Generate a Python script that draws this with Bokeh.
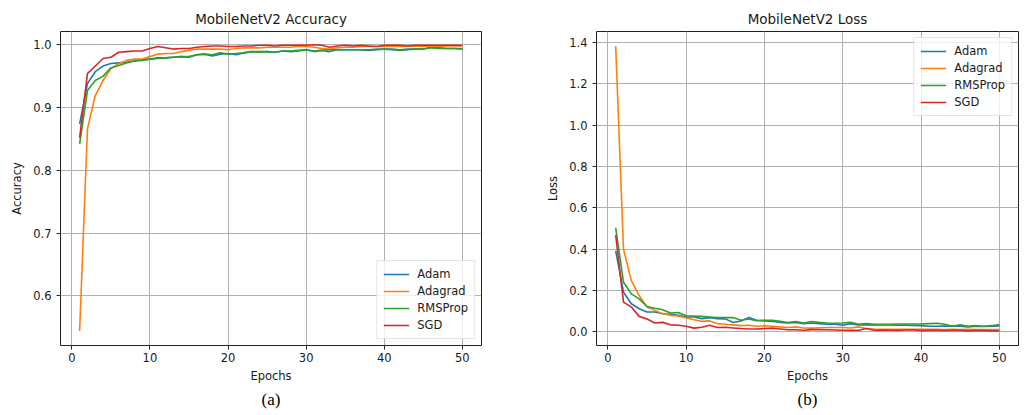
from bokeh.plotting import figure
from bokeh.layouts import row
from bokeh.models import FixedTicker, PrintfTickFormatter, Legend, LegendItem, Title
from bokeh.embed import file_html
from bokeh.resources import INLINE

epochs = list(range(1, 51))

acc_adam = [0.874, 0.938, 0.957, 0.966, 0.970, 0.971, 0.972, 0.974, 0.976, 0.977,
            0.979, 0.979, 0.980, 0.981, 0.980, 0.984, 0.985, 0.982, 0.985, 0.986,
            0.984, 0.987, 0.989, 0.989, 0.989, 0.988, 0.990, 0.989, 0.990, 0.992,
            0.990, 0.991, 0.989, 0.992, 0.992, 0.992, 0.992, 0.991, 0.992, 0.993,
            0.993, 0.992, 0.993, 0.993, 0.993, 0.996, 0.995, 0.994, 0.994, 0.994]
acc_adagrad = [0.544, 0.866, 0.919, 0.943, 0.962, 0.970, 0.975, 0.977, 0.977, 0.981,
               0.985, 0.986, 0.986, 0.989, 0.991, 0.993, 0.993, 0.993, 0.993, 0.992,
               0.994, 0.995, 0.995, 0.995, 0.996, 0.996, 0.996, 0.996, 0.997, 0.997,
               0.996, 0.994, 0.993, 0.995, 0.996, 0.996, 0.997, 0.997, 0.997, 0.997,
               0.997, 0.997, 0.997, 0.998, 0.997, 0.998, 0.997, 0.998, 0.998, 0.998]
acc_rmsprop = [0.842, 0.927, 0.943, 0.950, 0.963, 0.967, 0.971, 0.974, 0.975, 0.977,
               0.978, 0.979, 0.980, 0.981, 0.981, 0.984, 0.985, 0.984, 0.987, 0.985,
               0.986, 0.987, 0.989, 0.988, 0.989, 0.988, 0.990, 0.990, 0.991, 0.992,
               0.989, 0.991, 0.992, 0.992, 0.992, 0.992, 0.992, 0.992, 0.993, 0.993,
               0.992, 0.991, 0.992, 0.993, 0.993, 0.995, 0.994, 0.994, 0.994, 0.993]
acc_sgd = [0.852, 0.954, 0.966, 0.978, 0.980, 0.988, 0.989, 0.990, 0.990, 0.994,
           0.997, 0.995, 0.993, 0.994, 0.994, 0.996, 0.997, 0.998, 0.998, 0.997,
           0.997, 0.998, 0.998, 0.999, 0.999, 0.998, 0.999, 0.999, 0.999, 0.999,
           1.000, 0.999, 0.996, 0.998, 0.999, 0.998, 0.999, 0.998, 0.997, 0.999,
           0.999, 0.999, 0.998, 0.999, 0.999, 0.999, 0.999, 0.999, 0.999, 0.999]

loss_adam = [0.392, 0.192, 0.136, 0.112, 0.096, 0.096, 0.088, 0.085, 0.080, 0.072,
             0.072, 0.064, 0.069, 0.064, 0.063, 0.045, 0.053, 0.069, 0.056, 0.053,
             0.051, 0.046, 0.043, 0.046, 0.040, 0.043, 0.040, 0.037, 0.037, 0.032,
             0.040, 0.034, 0.035, 0.034, 0.033, 0.033, 0.032, 0.032, 0.031, 0.030,
             0.027, 0.027, 0.028, 0.028, 0.027, 0.024, 0.027, 0.026, 0.027, 0.029]
loss_adagrad = [1.384, 0.400, 0.248, 0.176, 0.120, 0.104, 0.088, 0.080, 0.077, 0.067,
                0.059, 0.051, 0.053, 0.040, 0.037, 0.034, 0.030, 0.032, 0.027, 0.030,
                0.027, 0.024, 0.021, 0.024, 0.019, 0.018, 0.020, 0.021, 0.021, 0.021,
                0.019, 0.024, 0.016, 0.014, 0.013, 0.013, 0.012, 0.013, 0.012, 0.012,
                0.012, 0.013, 0.011, 0.012, 0.011, 0.012, 0.011, 0.011, 0.011, 0.011]
loss_rmsprop = [0.504, 0.240, 0.184, 0.160, 0.123, 0.114, 0.107, 0.091, 0.094, 0.078,
                0.077, 0.075, 0.072, 0.069, 0.069, 0.069, 0.056, 0.062, 0.054, 0.056,
                0.056, 0.051, 0.045, 0.050, 0.043, 0.050, 0.046, 0.043, 0.042, 0.043,
                0.046, 0.037, 0.040, 0.037, 0.037, 0.037, 0.038, 0.038, 0.038, 0.038,
                0.040, 0.042, 0.037, 0.027, 0.034, 0.027, 0.030, 0.027, 0.030, 0.035]
loss_sgd = [0.469, 0.144, 0.120, 0.075, 0.062, 0.043, 0.046, 0.034, 0.032, 0.027,
            0.018, 0.022, 0.032, 0.021, 0.022, 0.019, 0.016, 0.014, 0.014, 0.016,
            0.018, 0.014, 0.010, 0.010, 0.008, 0.011, 0.011, 0.010, 0.009, 0.008,
            0.007, 0.007, 0.016, 0.008, 0.009, 0.008, 0.007, 0.009, 0.010, 0.006,
            0.007, 0.008, 0.006, 0.008, 0.007, 0.005, 0.007, 0.006, 0.005, 0.005]

names = ["Adam", "Adagrad", "RMSProp", "SGD"]
colors = ["#1f77b4", "#ff7f0e", "#2ca02c", "#d62728"]
x_ticks = [0, 10, 20, 30, 40, 50]
acc_ticks = [0.6, 0.7, 0.8, 0.9, 1.0]
loss_ticks = [0.0, 0.2, 0.4, 0.6, 0.8, 1.0, 1.2, 1.4]

FONT = "DejaVu Sans"


def make_fig(title, ylabel, series, yticks, yrange, legend_loc, caption,
             border_left, frame_w, border_right):
    p = figure(frame_width=frame_w, frame_height=314,
               min_border_left=border_left, min_border_right=border_right,
               min_border_top=31, min_border_bottom=70,
               x_range=(-1.45, 52.45), y_range=yrange,
               output_backend="svg", toolbar_location=None,
               background_fill_color="white", border_fill_color="white")
    p.title.text = title
    p.title.text_font = FONT
    p.title.text_font_size = "13.5px"
    p.title.text_font_style = "normal"
    p.title.align = "center"
    p.title.text_color = "#1a1a1a"
    p.outline_line_color = "#222222"
    p.outline_line_width = 1
    p.outline_line_alpha = 1

    items = []
    for name, col, ys in zip(names, colors, series):
        r = p.line(epochs, ys, line_color=col, line_width=1.6)
        items.append(LegendItem(label=name, renderers=[r]))

    for ax in (p.xaxis[0], p.yaxis[0]):
        ax.axis_line_color = None
        ax.major_tick_line_color = "#222222"
        ax.major_tick_out = 4
        ax.major_tick_in = 0
        ax.minor_tick_line_color = None
        ax.major_label_text_font = FONT
        ax.major_label_text_font_size = "11.5px"
        ax.major_label_text_color = "#1a1a1a"
        ax.axis_label_text_font = FONT
        ax.axis_label_text_font_size = "11.5px"
        ax.axis_label_text_font_style = "normal"
        ax.axis_label_text_color = "#1a1a1a"

    p.xaxis.ticker = FixedTicker(ticks=x_ticks)
    p.xaxis.axis_label = "Epochs"
    p.xaxis.major_label_standoff = 3
    p.xaxis.axis_label_standoff = 4
    p.yaxis.ticker = FixedTicker(ticks=yticks)
    p.yaxis.formatter = PrintfTickFormatter(format="%.1f")
    p.yaxis.axis_label = ylabel
    p.yaxis.major_label_standoff = 5
    p.yaxis.axis_label_standoff = 6

    p.grid.grid_line_color = "#b0b0b0"
    p.grid.grid_line_width = 1
    p.xgrid.ticker = FixedTicker(ticks=x_ticks)
    p.ygrid.ticker = FixedTicker(ticks=yticks)

    leg = Legend(items=items, location=legend_loc, margin=6,
                 label_text_font=FONT, label_text_font_size="11.5px",
                 label_text_color="#1a1a1a",
                 label_height=14, glyph_height=14, glyph_width=26,
                 spacing=3, padding=6, label_standoff=8,
                 border_line_color="#cccccc", border_line_width=1,
                 background_fill_alpha=0.8)
    p.add_layout(leg)

    cap = Title(text=caption, align="center", text_font="Liberation Serif",
                text_font_size="17px", text_font_style="normal",
                text_color="black", standoff=4)
    p.add_layout(cap, "below")
    return p


p1 = make_fig("MobileNetV2 Accuracy", "Accuracy",
              [acc_adam, acc_adagrad, acc_rmsprop, acc_sgd],
              acc_ticks, (0.521, 1.021), "bottom_right", "(a)", 60, 421, 55)
p2 = make_fig("MobileNetV2 Loss", "Loss",
              [loss_adam, loss_adagrad, loss_rmsprop, loss_sgd],
              loss_ticks, (-0.066, 1.454), "top_right", "(b)", 60, 422, 7)

layout = row(p1, p2)
open("out.html", "w").write(file_html(layout, INLINE))
